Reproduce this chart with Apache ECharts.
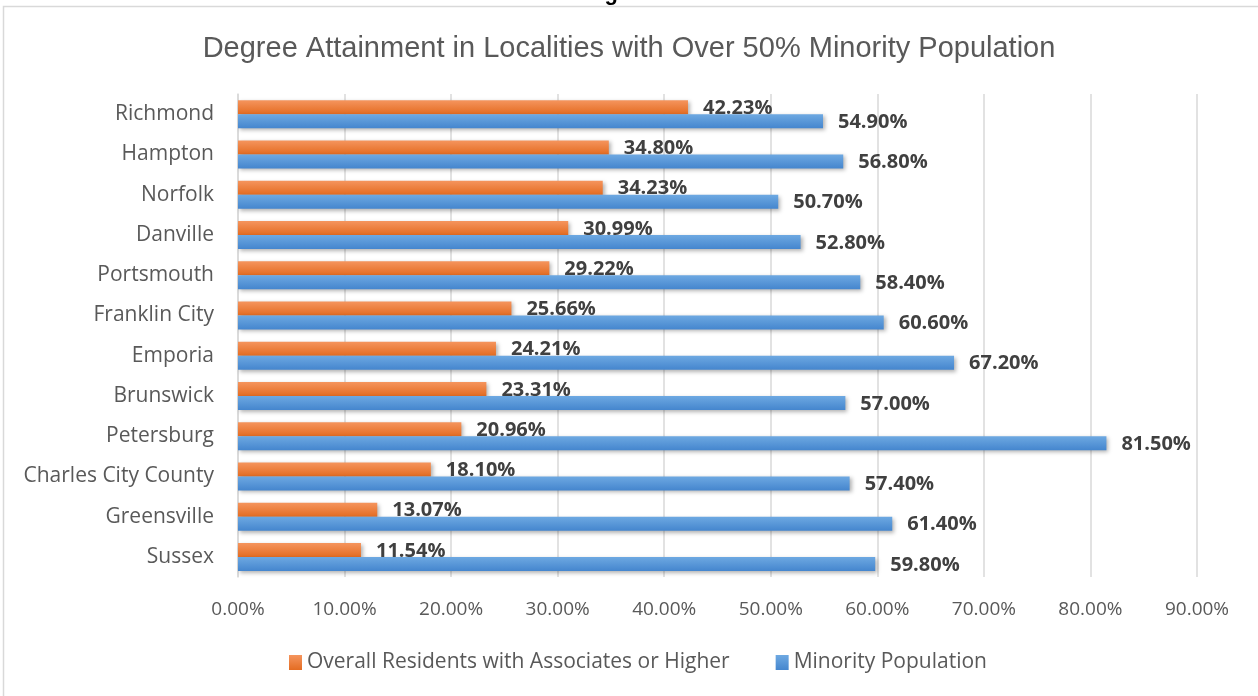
<!DOCTYPE html>
<html>
<head>
<meta charset="utf-8">
<script src="https://cdn.jsdelivr.net/npm/echarts@6/dist/echarts.min.js"></script>
<style>
  html, body { margin: 0; padding: 0; background: #fff; }
  #chart { width: 1258px; height: 696px; }
</style>
</head>
<body>
<div id="chart"></div>
<script>
  // data
  const places = ['Richmond', 'Hampton', 'Norfolk', 'Danville', 'Portsmouth', 'Franklin City',
    'Emporia', 'Brunswick', 'Petersburg', 'Charles City County', 'Greensville', 'Sussex'];
  const overallDegree = [42.23, 34.80, 34.23, 30.99, 29.22, 25.66, 24.21, 23.31, 20.96, 18.10, 13.07, 11.54];
  const minorityPop = [54.90, 56.80, 50.70, 52.80, 58.40, 60.60, 67.20, 57.00, 81.50, 57.40, 61.40, 59.80];
  const xTicks = [0, 10, 20, 30, 40, 50, 60, 70, 80, 90];

  const txt = '#595959';
  const labelFont = '"Open Sans", sans-serif';

  function grad(top, bottom) {
    return new echarts.graphic.LinearGradient(0, 0, 0, 1, [
      { offset: 0, color: top },
      { offset: 1, color: bottom }
    ]);
  }

  function barLabel() {
    return {
      show: true,
      position: 'right',
      distance: 15,
      offset: [0, 1],
      color: '#404040',
      fontWeight: 'bold',
      fontSize: 20,
      fontFamily: labelFont,
      formatter: p => p.value.toFixed(2) + '%'
    };
  }

  const chart = echarts.init(document.getElementById('chart'));
  chart.setOption({
    animation: false,
    textStyle: { fontFamily: labelFont },
    graphic: [
      { type: 'rect', shape: { x: 3.5, y: 6.5, width: 1270, height: 700 },
        style: { fill: 'none', stroke: '#d9d9d9', lineWidth: 1.5 }, z: -1 },
      { type: 'text', left: 585, top: -17,
        style: { text: 'Figure 6', fill: '#000', font: 'bold 22px "Liberation Sans"' } }
    ],
    title: {
      text: 'Degree Attainment in Localities with Over 50% Minority Population',
      left: 'center',
      top: 29,
      textStyle: { color: txt, fontSize: 29, fontWeight: 'normal', fontFamily: '"Liberation Sans", sans-serif' }
    },
    legend: {
      top: 647,
      left: 284,
      itemGap: 46,
      itemWidth: 13,
      itemHeight: 15,
      icon: 'rect',
      textStyle: { color: txt, fontSize: 21, fontFamily: labelFont }
    },
    grid: { left: 238, right: 61, top: 94, bottom: 119, containLabel: false },
    xAxis: {
      type: 'value',
      min: xTicks[0],
      max: xTicks[xTicks.length - 1],
      interval: 10,
      axisLine: { show: false },
      axisTick: { show: false },
      splitLine: { lineStyle: { color: '#d9d9d9', width: 1.5 } },
      axisLabel: { color: txt, fontSize: 19, margin: 23, formatter: v => v.toFixed(2) + '%' }
    },
    yAxis: {
      type: 'category',
      data: places,
      inverse: true,
      axisLine: { lineStyle: { color: '#d9d9d9', width: 1.5 } },
      axisTick: { show: false },
      axisLabel: { color: txt, fontSize: 21, margin: 24 }
    },
    series: [
      {
        name: 'Overall Residents with Associates or Higher',
        type: 'bar',
        data: overallDegree,
        barWidth: 14,
        barGap: '0%',
        itemStyle: { color: grad('#F5955E', '#E46C22'), shadowColor: 'rgba(0,0,0,0.3)', shadowBlur: 4, shadowOffsetX: 2, shadowOffsetY: 2 },
        label: barLabel()
      },
      {
        name: 'Minority Population',
        type: 'bar',
        data: minorityPop,
        barWidth: 14,
        barGap: '0%',
        itemStyle: { color: grad('#6EA9E2', '#4586CE'), shadowColor: 'rgba(0,0,0,0.3)', shadowBlur: 4, shadowOffsetX: 2, shadowOffsetY: 2 },
        label: barLabel()
      }
    ]
  });
</script>
</body>
</html>
